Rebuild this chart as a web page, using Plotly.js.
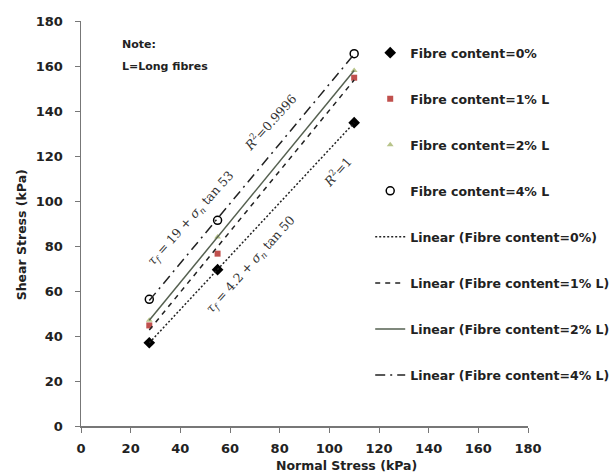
<!DOCTYPE html>
<html>
<head>
<meta charset="utf-8">
<script src="https://cdn.plot.ly/plotly-3.0.1.min.js"></script>
<style>html,body{margin:0;padding:0;background:#fff;}#chart{width:611px;height:474px;}</style>
</head>
<body>
<div id="chart"></div>
<script>
// Data
const normalStress = [27.5, 55, 110];
const shear0 = [37, 69.5, 134.8];
const shear1 = [44.7, 76.6, 154.8];
const shear2 = [47, 84, 158];
const shear4 = [56.3, 91.4, 165.5];
const seriesNames = ["Fibre content=0%", "Fibre content=1% L", "Fibre content=2% L", "Fibre content=4% L"];
const trendNames = ["Linear (Fibre content=0%)", "Linear (Fibre content=1% L)", "Linear (Fibre content=2% L)", "Linear (Fibre content=4% L)"];
const xTicks = [0, 20, 40, 60, 80, 100, 120, 140, 160, 180];
const yTicks = [0, 20, 40, 60, 80, 100, 120, 140, 160, 180];
const xTitle = "Normal Stress (kPa)";
const yTitle = "Shear Stress (kPa)";

// least-squares linear trendline evaluated at the data extremes
function fit(xs, ys) {
  const n = xs.length;
  const mx = xs.reduce((a, b) => a + b, 0) / n;
  const my = ys.reduce((a, b) => a + b, 0) / n;
  let sxy = 0, sxx = 0;
  for (let i = 0; i < n; i++) { sxy += (xs[i] - mx) * (ys[i] - my); sxx += (xs[i] - mx) ** 2; }
  const b = sxy / sxx, a = my - b * mx;
  const x0 = Math.min(...xs), x1 = Math.max(...xs);
  return {x: [x0, x1], y: [a + b * x0, a + b * x1]};
}

const sans = "DejaVu Sans";
const legFont = {family: sans, size: 12.5, color: "#222", weight: "bold"};
const tickFont = {family: sans, size: 13, color: "#222", weight: "bold"};
const titleFont = {family: sans, size: 12.5, color: "#222", weight: "bold"};
const allY = [shear0, shear1, shear2, shear4];
const markers = [
  {symbol: "diamond", size: 9, color: "#000"},
  {symbol: "square", size: 6, color: "#c0504d"},
  {symbol: "triangle-up", size: 6, color: "#b8c48a"},
  {symbol: "circle-open", size: 8, color: "#000", line: {width: 1.5, color: "#000"}}
];
const lineStyles = [
  {color: "#222", width: 1.5, dash: "2px,2px"},
  {color: "#222", width: 1.5, dash: "5px,5px"},
  {color: "#556050", width: 1.5, dash: "solid"},
  {color: "#222", width: 1.5, dash: "10px,5px,2px,5px"}
];

const traces = [];
for (let i = 0; i < 4; i++) {
  traces.push({
    x: normalStress, y: allY[i], type: "scatter", mode: "markers",
    name: seriesNames[i], marker: markers[i], legendgroup: "m" + i
  });
}
for (let i = 0; i < 4; i++) {
  const f = fit(normalStress, allY[i]);
  traces.push({
    x: f.x, y: f.y, type: "scatter", mode: "lines",
    name: trendNames[i], line: lineStyles[i], legendgroup: "t" + i
  });
}

const annFont = {family: "DejaVu Serif", size: 12.5, color: "#333"};
const noteFont = {family: sans, size: 11, color: "#222", weight: "bold"};
const layout = {
  width: 611, height: 474,
  margin: {l: 81, r: 83, t: 21, b: 48, autoexpand: false},
  paper_bgcolor: "#fff", plot_bgcolor: "#fff",
  showlegend: true,
  legend: {
    x: 0.647, y: 0.958, xanchor: "left", yanchor: "top",
    font: legFont, traceorder: "grouped", tracegroupgap: 26.8,
    bgcolor: "rgba(0,0,0,0)", itemwidth: 30
  },
  xaxis: {
    range: [0, 180], tickvals: xTicks, ticktext: xTicks.map(String),
    showgrid: false, zeroline: false, showline: true, linecolor: "#777", linewidth: 1.5,
    ticks: "outside", ticklen: 5, tickcolor: "#777", ticklabelstandoff: 5,
    tickfont: tickFont, automargin: false
  },
  yaxis: {
    range: [0, 180], tickvals: yTicks, ticktext: yTicks.map(String),
    showgrid: false, zeroline: false, showline: true, linecolor: "#777", linewidth: 1.5,
    ticks: "outside", ticklen: 5, tickcolor: "#777", ticklabelstandoff: 9,
    tickfont: tickFont, automargin: false
  },
  annotations: [
    {x: 0.595, y: -0.0975, xref: "paper", yref: "paper", xanchor: "center", yanchor: "middle", showarrow: false,
     text: xTitle, font: titleFont},
    {x: -0.134, y: 0.471, xref: "paper", yref: "paper", xanchor: "center", yanchor: "middle", showarrow: false,
     textangle: -90, text: yTitle, font: titleFont},
    {x: 15.7, y: 169.6, xref: "x", yref: "y", xanchor: "left", yanchor: "middle", showarrow: false,
     text: "Note:", font: noteFont},
    {x: 15.7, y: 159.9, xref: "x", yref: "y", xanchor: "left", yanchor: "middle", showarrow: false,
     text: "L=Long fibres", font: noteFont},
    {x: 44.3, y: 92.3, xref: "x", yref: "y", showarrow: false, textangle: -48,
     text: "<i>τ<sub>f</sub></i> = 19 + <i>σ<sub>n</sub></i> tan 53", font: annFont},
    {x: 76.1, y: 135, xref: "x", yref: "y", showarrow: false, textangle: -48,
     text: "<i>R</i><sup>2</sup>=0.9996", font: annFont},
    {x: 68.5, y: 71.8, xref: "x", yref: "y", showarrow: false, textangle: -48,
     text: "<i>τ<sub>f</sub></i> = 4.2 + <i>σ<sub>n</sub></i> tan 50", font: annFont},
    {x: 102.9, y: 113, xref: "x", yref: "y", showarrow: false, textangle: -48,
     text: "<i>R</i><sup>2</sup>=1", font: annFont}
  ]
};

Plotly.newPlot("chart", traces, layout, {displayModeBar: false, staticPlot: true});
</script>
</body>
</html>
